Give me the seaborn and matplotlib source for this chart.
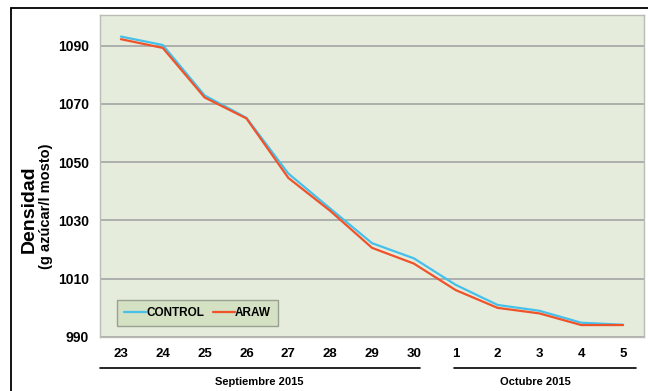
import matplotlib
matplotlib.use("Agg")
import matplotlib.pyplot as plt
import seaborn as sns
import pandas as pd
from matplotlib.lines import Line2D
import matplotlib.transforms as mtransforms

days = ["23", "24", "25", "26", "27", "28", "29", "30", "1", "2", "3", "4", "5"]
control = [1093.1, 1090.2, 1072.9, 1065.2, 1046.1, 1034.1, 1022.2, 1017.0, 1007.9, 1001.0, 999.0, 994.9, 994.2]
araw = [1092.2, 1089.2, 1072.2, 1065.0, 1044.6, 1033.3, 1020.6, 1015.2, 1006.1, 1000.0, 998.1, 994.1, 994.1]
series_names = ["CONTROL", "ARAW"]
yticks = [990, 1010, 1030, 1050, 1070, 1090]
month_labels = ["Septiembre 2015", "Octubre 2015"]

sns.set_theme(style="white")
FONT = ["Liberation Sans", "DejaVu Sans"]
plt.rcParams["font.family"] = FONT
plt.rcParams["text.color"] = "black"
plt.rcParams["xtick.color"] = "black"
plt.rcParams["ytick.color"] = "black"

df = pd.DataFrame({
    "pos": list(range(len(days))) * 2,
    "value": control + araw,
    "series": [series_names[0]] * len(days) + [series_names[1]] * len(days),
})

fig = plt.figure(figsize=(6.48, 3.91), dpi=100)
ax = fig.add_axes([100 / 648, 54 / 391, 544 / 648, 322 / 391])
ax.set_facecolor("#e5ecdc")

sns.lineplot(data=df, x="pos", y="value", hue="series",
             palette={"CONTROL": "#45c0ea", "ARAW": "#f0522a"},
             linewidth=1.6, ax=ax, legend=True)

ax.set_xlim(-0.5, len(days) - 0.5)
ax.set_ylim(990, 1100.5)
ax.set_yticks(yticks)
ax.set_yticklabels([str(t) for t in yticks], fontsize=10, fontweight="bold", color="black")
ax.set_xticks(range(len(days)))
ax.set_xticklabels(days, fontsize=9.5, fontweight="bold", color="black")
ax.tick_params(axis="both", length=0, pad=8)
ax.grid(axis="y", color="#a9aaa8", linewidth=1.3)
ax.grid(axis="x", visible=False)
ax.set_axisbelow(True)
for s in ax.spines.values():
    s.set_color("#b8bcb4")
    s.set_linewidth(1.0)
ax.set_xlabel("")
ax.set_ylabel("")

leg = ax.legend(loc="lower left", bbox_to_anchor=(0.031, 0.034), ncol=2,
                frameon=True, fancybox=False, handlelength=1.9, handletextpad=0.0,
                columnspacing=0.7, borderpad=0.6, borderaxespad=0,
                prop={"family": FONT, "weight": "bold", "size": 8.5})
leg.get_frame().set_facecolor("#d4e1c3")
leg.get_frame().set_edgecolor("#9aa092")
leg.get_frame().set_alpha(1)
leg.get_frame().set_linewidth(1.0)
for t in leg.get_texts():
    t.set_color("black")
for h in leg.get_lines():
    h.set_linewidth(1.6)

# Y label
fig.text(29 / 648, 182 / 391, "Densidad", rotation=90, ha="center", va="center",
         fontsize=14, fontweight="bold", family=FONT, color="black")
fig.text(46 / 648, 185 / 391, "(g azúcar/l mosto)", rotation=90, ha="center", va="center",
         fontsize=10.5, fontweight="bold", family=FONT, color="black")

# month brackets
trans = mtransforms.blended_transform_factory(ax.transData, ax.transAxes)
ax.plot([-0.5, 7.15], [-0.096, -0.096], color="black", lw=1.2, transform=trans, clip_on=False)
ax.plot([7.95, 12.3], [-0.096, -0.096], color="black", lw=1.2, transform=trans, clip_on=False)
ax.text(3.3, -0.14, month_labels[0], transform=trans, ha="center", va="center",
        fontsize=8, fontweight="bold", color="black")
ax.text(9.9, -0.14, month_labels[1], transform=trans, ha="center", va="center",
        fontsize=8, fontweight="bold", color="black")

# outer frame
fig.add_artist(Line2D([11 / 648, 1], [1 - 8 / 391, 1 - 8 / 391], color="black", lw=1.3))
fig.add_artist(Line2D([11 / 648, 11 / 648], [0, 1 - 8 / 391], color="black", lw=1.3))

fig.savefig("out.png", dpi=100, facecolor="white")
